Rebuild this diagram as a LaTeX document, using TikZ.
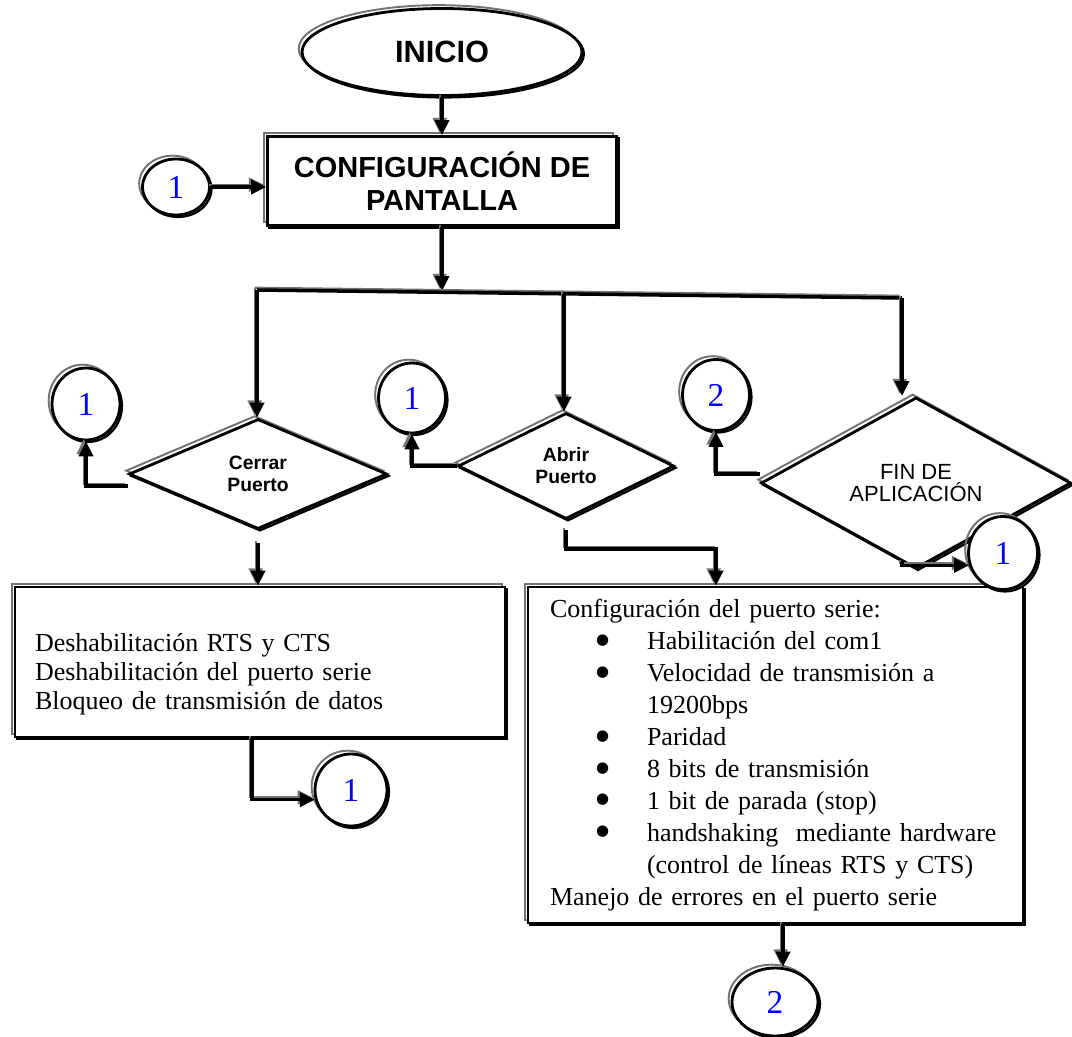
\documentclass[tikz,border=0pt]{standalone}
\usepackage{fontspec}
\setmainfont{Liberation Serif}
\setsansfont{Liberation Sans}
\newfontfamily\dejavu{DejaVu Sans}
\usetikzlibrary{arrows.meta,shapes.geometric,calc}
\newcommand{\bul}[1]{\hspace*{0.92cm}\makebox[1.02cm][l]{\raisebox{0.45ex}{\dejavu\fontsize{8.5}{0}\selectfont ●}}#1}
\newcommand{\cont}[1]{\hspace*{1.94cm}#1}

\begin{document}
\begin{tikzpicture}[x=0.02cm, y=-0.02cm,
  rim/.style={draw=black, line width=1.6pt, fill=white,
    preaction={draw=black!55, line width=1.1pt, transform canvas={shift={(-1.9pt,1.9pt)}}},
    preaction={draw=black, line width=1.3pt, transform canvas={shift={(1.1pt,-1.1pt)}}}},
  term/.style={rim, ellipse, inner sep=0pt, font=\sffamily\bfseries\fontsize{17.5}{20}\selectfont},
  proc/.style={rim, rectangle, inner sep=0pt, align=center, font=\sffamily\bfseries\fontsize{16.5}{19}\selectfont},
  txtbox/.style={rim, rectangle, align=left, inner ysep=0pt},
  dec/.style={rim, diamond, inner sep=0pt, align=center},
  conn/.style={rim, ellipse, inner sep=0pt, text=blue, font=\fontsize{19}{20}\selectfont},
  link/.style={line width=2pt, preaction={draw=black!55, line width=1.2pt, transform canvas={shift={(-1.3pt,1.3pt)}}}},
  arr/.style={link, -{Triangle[length=8.5pt,width=8pt]}}]
\useasboundingbox (0,0) rectangle (1072,1037);

\node[term, minimum width=5.6cm, minimum height=1.74cm] (ini) at (442,52) {INICIO};
\node[proc, minimum width=6.98cm, minimum height=1.78cm] (conf) at (442,181) {CONFIGURACIÓN DE\\PANTALLA};
\node[conn, minimum width=1.34cm, minimum height=1.12cm] (c1a) at (176,187) {1};

\coordinate (bl) at (257,290);
\coordinate (bj) at (442,291);
\coordinate (bm) at (564,294);
\coordinate (brr) at (902,298);

\node[dec, minimum width=5.16cm, minimum height=2.2cm, font=\sffamily\bfseries\fontsize{11}{12.5}\selectfont] (cerrar) at (258,474) {Cerrar\\Puerto};
\node[dec, minimum width=4.32cm, minimum height=2.12cm, font=\sffamily\bfseries\fontsize{11}{12.5}\selectfont] (abrir) at (566,466) {Abrir\\Puerto};
\node[dec, minimum width=6.2cm, minimum height=2.68cm, font=\sffamily\fontsize{12.5}{13}\selectfont] (fin) at (916,483) {FIN DE\\APLICACIÓN};

\node[conn, minimum width=1.36cm, minimum height=1.44cm] (c1b) at (86,404) {1};
\node[conn, minimum width=1.34cm, minimum height=1.4cm] (c1c) at (412,398) {1};
\node[conn, minimum width=1.34cm, minimum height=1.42cm] (c2a) at (716,395) {2};

\node[txtbox, minimum width=9.8cm, minimum height=3cm, text width=9cm, inner xsep=0.4cm, font=\fontsize{14.8}{16.5}\selectfont] (box1) at (260,662)
  {\rule{0pt}{0.86cm}Deshabilitación RTS y CTS\\Deshabilitación del puerto serie\\Bloqueo de transmisión de datos};
\node[txtbox, minimum width=9.9cm, minimum height=6.72cm, text width=9.02cm, inner xsep=0.44cm, font=\fontsize{14.8}{18.2}\selectfont] (box2) at (775.5,755)
  {Configuración del puerto serie:\\
   \bul{Habilitación del com1}\\
   \bul{Velocidad de transmisión a}\\
   \cont{19200bps}\\
   \bul{Paridad}\\
   \bul{8 bits de transmisión}\\
   \bul{1 bit de parada (stop)}\\
   \bul{handshaking\ \ mediante hardware}\\
   \cont{(control de líneas RTS y CTS)}\\
   Manejo de errores en el puerto serie};

\node[conn, minimum width=1.38cm, minimum height=1.46cm] (c1d) at (1003,553) {1};
\node[conn, minimum width=1.44cm, minimum height=1.44cm] (c1e) at (351,790) {1};
\node[conn, minimum width=1.72cm, minimum height=1.36cm] (c2b) at (775,1002) {2};

\coordinate (k2) at (716,549);

\draw[arr] (ini) -- (conf);
\draw[arr] (c1a.east) -- (c1a.east -| conf.west);
\draw[arr] (conf.south) -- (bj);
\draw[link] (bl) -- (brr);
\draw[arr] (bl) -- (bl |- cerrar.north);
\draw[arr] (bm) -- (bm |- abrir.north);
\draw[arr] (brr) -- (brr |- fin.north);
\draw[arr] ([yshift=-0.24cm]cerrar.west) -| (c1b.south);
\draw[arr] (abrir.west) -| (c1c.south);
\draw[arr] ([yshift=0.18cm]fin.west) -| (c2a.south);
\draw[arr, shorten <=0.26cm] (cerrar.south) -- (cerrar.south |- box1.north);
\draw[arr, shorten <=0.2cm] (abrir.south) |- (k2) -- (k2 |- box2.north);
\draw[arr] ($(fin.south)!0.09!(fin.west)$) |- (c1d.200);
\draw[arr] ([xshift=-0.16cm]box1.south) |- (c1e.195);
\draw[arr] ([xshift=0.15cm]box2.south) -- ([xshift=0.15cm]box2.south |- c2b.north);
\end{tikzpicture}
\end{document}
